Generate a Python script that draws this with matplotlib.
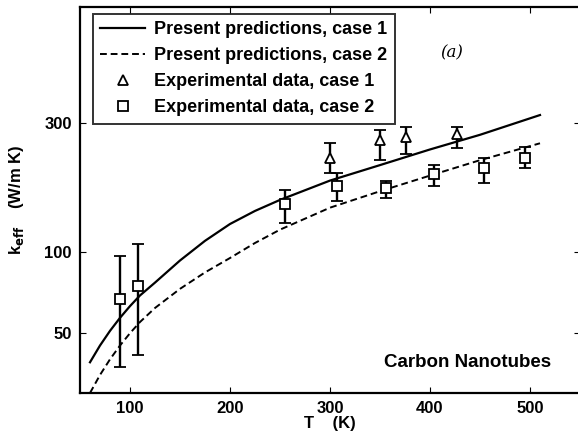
import numpy as np
import matplotlib.pyplot as plt
from matplotlib.lines import Line2D
from matplotlib.ticker import FixedLocator, FixedFormatter, NullLocator

# model curves
t_model = [60, 70, 80, 90, 100, 110, 125, 150, 175, 200, 225, 250, 300, 350, 400, 450, 510]
k_case1 = [39, 45, 51, 57, 63, 69, 77, 93, 110, 127, 142, 156, 184, 210, 240, 272, 322]
k_case2 = [30, 35, 40, 45, 50, 55, 62, 73, 84, 95, 108, 121, 146, 168, 192, 219, 253]

# experimental data, case 1 (triangles)
t_exp1 = [300, 350, 376, 427]
k_exp1 = [224, 260, 266, 275]
k_exp1_hi = [253, 283, 290, 290]
k_exp1_lo = [196, 219, 231, 242]

# experimental data, case 2 (squares)
t_exp2 = [90, 108, 255, 307, 356, 404, 454, 495]
k_exp2 = [67, 75, 151, 176, 172, 195, 204, 224]
k_exp2_hi = [97, 107, 170, 197, 184, 211, 224, 245]
k_exp2_lo = [37.5, 41.5, 128, 155, 158, 176, 181, 204]

labels = ['Present predictions, case 1', 'Present predictions, case 2',
          'Experimental data, case 1', 'Experimental data, case 2']

plt.rcParams['font.family'] = ['Liberation Sans', 'DejaVu Sans']
plt.rcParams['font.weight'] = 'bold'

fig = plt.figure(figsize=(5.78, 4.46), dpi=100)
ax = fig.add_axes([80 / 578, 1 - 393 / 446, 500 / 578, 386 / 446])

dash = (0, (3.5, 2))
ax.plot(t_model, k_case1, color='black', lw=1.6, ls='-')
ax.plot(t_model, k_case2, color='black', lw=1.4, ls=dash)

err1 = [np.array(k_exp1) - np.array(k_exp1_lo), np.array(k_exp1_hi) - np.array(k_exp1)]
err2 = [np.array(k_exp2) - np.array(k_exp2_lo), np.array(k_exp2_hi) - np.array(k_exp2)]
ax.errorbar(t_exp1, k_exp1, yerr=err1, fmt='^', mfc='white', mec='black',
            ms=7, mew=1.3, ecolor='black', elinewidth=1.7, capsize=4,
            capthick=1.7)
ax.errorbar(t_exp2, k_exp2, yerr=err2, fmt='s', mfc='white', mec='black',
            ms=6.5, mew=1.3, ecolor='black', elinewidth=1.7, capsize=4,
            capthick=1.7)

ax.set_yscale('log')
ax.set_xlim(50, 550)
ax.set_ylim(30, 810)
ax.xaxis.set_major_locator(FixedLocator([100, 200, 300, 400, 500]))
ax.yaxis.set_major_locator(FixedLocator([50, 100, 300]))
ax.yaxis.set_major_formatter(FixedFormatter(['50', '100', '300']))
ax.yaxis.set_minor_locator(NullLocator())
ax.tick_params(direction='in', top=True, right=True, length=4, width=0.8,
               labelsize=12, pad=6)
for lab in ax.get_xticklabels() + ax.get_yticklabels():
    lab.set_fontweight('bold')
for sp in ax.spines.values():
    sp.set_linewidth(1.6)

ax.set_xlabel('T    (K)', fontsize=12, fontweight='bold', labelpad=0)
ax.set_ylabel(r'k$_{\mathbf{eff}}$    (W/m K)', fontsize=12, fontweight='bold',
              labelpad=13)

ax.text(410, 548, '(a)', fontsize=12, fontstyle='italic', fontweight='normal',
        family='DejaVu Serif', va='center')
ax.text(354, 39, 'Carbon Nanotubes', fontsize=13.5, fontweight='bold',
        va='center')

handles = [
    Line2D([], [], color='black', lw=1.6, ls='-'),
    Line2D([], [], color='black', lw=1.4, ls=dash),
    Line2D([], [], ls='none', marker='^', mfc='white', mec='black', ms=7, mew=1.3),
    Line2D([], [], ls='none', marker='s', mfc='white', mec='black', ms=6.5, mew=1.3),
]
leg = ax.legend(handles, labels, loc='upper left',
                bbox_to_anchor=(13 / 500, 1 - 7 / 386),
                fontsize=13, frameon=True, fancybox=False, edgecolor='black',
                handlelength=2.5, handletextpad=0.5, borderpad=0.4,
                labelspacing=0.5, borderaxespad=0)
leg.get_frame().set_linewidth(1.4)
for txt in leg.get_texts():
    txt.set_fontweight('bold')

fig.savefig('out.png', dpi=100)
